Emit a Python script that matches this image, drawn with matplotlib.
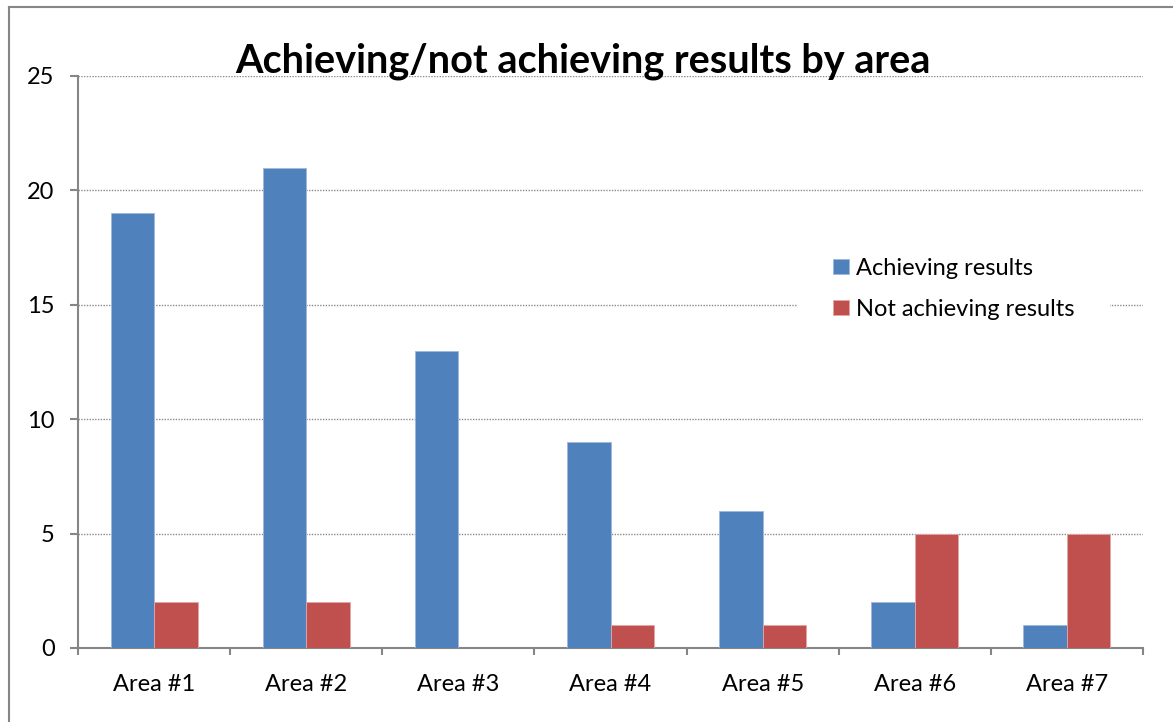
import numpy as np
import matplotlib.pyplot as plt
from matplotlib.lines import Line2D

# --- data ---
areas = ["Area #1", "Area #2", "Area #3", "Area #4", "Area #5", "Area #6", "Area #7"]
achieving = [19, 21, 13, 9, 6, 2, 1]
not_achieving = [2, 2, 0, 1, 1, 5, 5]
y_ticks = [0, 5, 10, 15, 20, 25]

blue = "#4F81BD"
red = "#C0504D"
axis_gray = "#868686"

plt.rcParams['font.family'] = ['Lato', 'DejaVu Sans']

W, H = 1173, 722
fig = plt.figure(figsize=(W / 100, H / 100), dpi=100)

# outer chart border (only left and top visible in the crop)
fig.add_artist(Line2D([9 / W, 9 / W], [0, 1 - 7 / H], color=axis_gray, lw=1.5,
                      transform=fig.transFigure))
fig.add_artist(Line2D([9 / W, 1], [1 - 7 / H, 1 - 7 / H], color=axis_gray, lw=1.5,
                      transform=fig.transFigure))

ax = fig.add_axes([78 / W, (H - 648) / H, (1143 - 78) / W, (648 - 76) / H])

x = np.arange(len(areas))
w = 1 / 3.5
ax.bar(x - w / 2, achieving, w, color=blue, edgecolor="#9DB9DC", linewidth=0.6,
       label="Achieving results", zorder=3)
ax.bar(x + w / 2, not_achieving, w, color=red, edgecolor="#E3A8A6", linewidth=0.6,
       label="Not achieving results", zorder=3)

ax.set_xlim(-0.5, len(areas) - 0.5)
ax.set_ylim(0, 25)
ax.set_yticks(y_ticks)
ax.yaxis.grid(True, color="#8c8c8c", linestyle=(0, (1, 1)), linewidth=1.0, zorder=0)

ax.set_xticks(x)
ax.set_xticklabels(areas, fontsize=17)
ax.set_xticks(np.arange(len(areas) + 1) - 0.5, minor=True)
ax.tick_params(axis='x', which='major', length=0, pad=19)
ax.tick_params(axis='x', which='minor', length=5, width=1.5, color=axis_gray)
ax.tick_params(axis='y', length=5.8, width=1.5, color=axis_gray, labelsize=17, pad=11)

for s in ["top", "right"]:
    ax.spines[s].set_visible(False)
for s in ["left", "bottom"]:
    ax.spines[s].set_color(axis_gray)
    ax.spines[s].set_linewidth(1.5)

leg = ax.legend(loc="center left", bbox_to_anchor=(0.676, 0.628), fontsize=17,
                frameon=True, handlelength=0.65, handleheight=0.65, handletextpad=0.3,
                labelspacing=0.85, borderpad=1.5, borderaxespad=0, fancybox=False)
leg.get_frame().set_edgecolor("none")
leg.get_frame().set_facecolor("white")
leg.get_frame().set_alpha(1)

fig.text(583 / W, 1 - 61 / H, "Achieving/not achieving results by area",
         ha="center", va="center", fontsize=28.5, fontweight="bold")

fig.savefig("out.png", dpi=100)
